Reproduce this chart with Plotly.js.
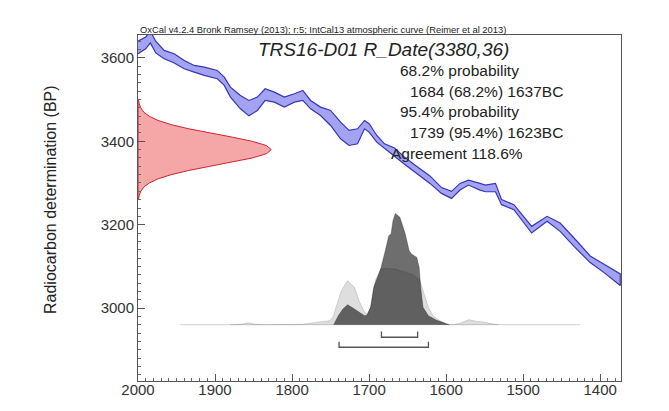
<!DOCTYPE html>
<html><head><meta charset="utf-8">
<script src="https://cdn.plot.ly/plotly-3.0.1.min.js"></script>
<style>html,body{margin:0;padding:0;background:#fff}</style>
</head><body><div id="chart" style="width:669px;height:411px"></div>
<script>
// Calibration curve (IntCal13) band, years BC and 14C BP
const curveYears = [2000,1990,1984,1977,1966,1953,1940,1927,1914,1897,1888,1880,1867,1856,1845,1835,1823,1810,1797,1786,1776,1763,1750,1737,1726,1715,1706,1700,1690,1680,1667,1654,1642,1621,1606,1593,1582,1571,1556,1549,1536,1528,1512,1499,1489,1469,1452,1434,1413,1395,1374];
const curveUpper = [3640,3650,3664,3640,3618,3610,3594,3582,3578,3570,3554,3530,3510,3498,3506,3526,3518,3506,3514,3522,3498,3482,3474,3446,3426,3430,3450,3442,3414,3394,3384,3362,3345,3317,3289,3280,3299,3307,3299,3295,3299,3260,3248,3220,3196,3220,3204,3168,3125,3105,3082];
const curveLower = [3610,3622,3636,3612,3598,3588,3574,3566,3558,3550,3534,3506,3478,3461,3474,3498,3494,3482,3494,3498,3478,3462,3438,3406,3390,3394,3430,3422,3398,3382,3364,3345,3327,3299,3275,3263,3283,3295,3283,3279,3279,3248,3236,3204,3180,3208,3184,3148,3109,3085,3054];

// Radiocarbon measurement R_Date(3380,36): relative probability vs BP
const measBP = [3260,3270,3280,3290,3300,3310,3320,3330,3340,3350,3360,3370,3380,3390,3400,3410,3420,3430,3440,3450,3460,3470,3480,3490,3500];
const measProb = [0.004,0.009,0.021,0.043,0.085,0.151,0.249,0.381,0.539,0.707,0.857,0.962,1,0.962,0.857,0.707,0.539,0.381,0.249,0.151,0.085,0.043,0.021,0.009,0.004];

// Calibrated distributions (years BC, relative probability)
const likeYears = [1880,1866,1857,1848,1836,1814,1807,1800,1786,1768,1760,1751,1746,1743,1736,1728,1719,1713,1706,1702,1698,1692,1685,1679,1666,1653,1643,1634,1628,1623,1617,1608,1600,1592,1583,1571,1560,1551,1542,1532];
const likeProb = [0,0.004,0.018,0.004,0,0,0.006,0,0.004,0.021,0.025,0.036,0.08,0.156,0.306,0.396,0.336,0.216,0.111,0.09,0.156,0.396,0.5,0.506,0.5,0.47,0.449,0.396,0.276,0.156,0.081,0.036,0.006,0,0.01,0.045,0.03,0.024,0.01,0];
const postYears = [1746,1740,1734,1728,1721,1713,1706,1703,1698,1694,1689,1685,1679,1674.5,1671.5,1669,1666,1660,1653,1648,1645,1638,1635,1633,1630,1623,1613,1602,1596];
const postProb = [0,0.081,0.141,0.18,0.15,0.111,0.081,0.085,0.156,0.336,0.425,0.5,0.665,0.8,0.815,0.935,1,0.965,0.815,0.665,0.635,0.605,0.515,0.336,0.156,0.081,0.042,0.012,0];
const plotSpan = [1945, 1426];

// Ranges
const range68 = [1684, 1637];
const range95 = [1739, 1623];

// Texts
const headerText = 'OxCal v4.2.4 Bronk Ramsey (2013); r:5; IntCal13 atmospheric curve (Reimer et al 2013)';
const titleText = 'TRS16-D01 R_Date(3380,36)';
const infoLines = ['68.2% probability','1684 (68.2%) 1637BC','95.4% probability','1739 (95.4%) 1623BC','Agreement 118.6%'];
const yTitle = 'Radiocarbon determination (BP)';

// ---- layout helpers ----
const L=138, R=621, T=35, B=381;
const px = x => (x-L)/(R-L);
const py = y => (B-y)/(B-T);
const baseBP = 2960, distScale = 267, measScale = 173, xLeft = 2000;
const FONT = 'Liberation Sans, Arial, sans-serif';

const traces = [];
// calibration band
traces.push({
  x: curveYears.concat(curveYears.slice().reverse()),
  y: curveUpper.concat(curveLower.slice().reverse()),
  type:'scatter', mode:'lines', fill:'toself',
  fillcolor:'#a3a3f2', line:{color:'#3535b5', width:1.2}, hoverinfo:'skip'
});
// measurement curve
traces.push({
  x: measProb.map(p => xLeft - p*measScale).concat([xLeft, xLeft]),
  y: measBP.concat([measBP[measBP.length-1], measBP[0]]),
  type:'scatter', mode:'lines', fill:'toself',
  fillcolor:'#f5a6a6', line:{color:'#cc2233', width:1}, hoverinfo:'skip'
});
// baseline
traces.push({x: plotSpan, y:[baseBP, baseBP], type:'scatter', mode:'lines', line:{color:'#cfcfcf', width:1}, hoverinfo:'skip'});
// likelihood
traces.push({
  x: likeYears, y: likeProb.map(p => baseBP + p*distScale),
  type:'scatter', mode:'lines', fill:'toself', fillcolor:'rgba(0,0,0,0.13)',
  line:{color:'rgba(0,0,0,0.18)', width:0.8}, hoverinfo:'skip'
});
// posterior
traces.push({
  x: postYears, y: postProb.map(p => baseBP + p*distScale),
  type:'scatter', mode:'lines', fill:'toself', fillcolor:'rgba(0,0,0,0.57)',
  line:{color:'rgba(0,0,0,0.45)', width:0.6}, hoverinfo:'skip'
});
// range brackets
function bracket(r, yBar, h){
  return {x:[r[0],r[0],r[1],r[1]], y:[yBar+h, yBar, yBar, yBar+h], type:'scatter', mode:'lines',
          line:{color:'#555', width:1.3}, hoverinfo:'skip'};
}
traces.push(bracket(range68, 2930, 14));
traces.push(bracket(range95, 2906, 13));

const ann = [];
ann.push({text: headerText, xref:'paper', yref:'paper', x: px(138), y: py(29), xanchor:'left', yanchor:'middle',
  showarrow:false, font:{family:FONT, size:9.4, color:'#222'}});
ann.push({text: '<i>'+titleText+'</i>', xref:'paper', yref:'paper', x: px(256), y: py(50), xanchor:'left', yanchor:'middle',
  showarrow:false, font:{family:FONT, size:19, color:'#222'}});
const infoX = [398, 408, 398, 408, 389];
const infoY = [71, 92, 111.5, 132, 153];
infoLines.forEach((t,i) => ann.push({text:t, xref:'paper', yref:'paper', x: px(infoX[i]), y: py(infoY[i]),
  xanchor:'left', yanchor:'middle', showarrow:false, font:{family:FONT, size:15.5, color:'#222'}}));
ann.push({text: yTitle, xref:'paper', yref:'paper', x: px(50), y: py(200), xanchor:'center', yanchor:'middle',
  textangle:-90, showarrow:false, font:{family:FONT, size:16, color:'#222'}});

const axisCommon = {showgrid:false, zeroline:false, showline:true, mirror:true, linecolor:'#555', linewidth:1,
  ticks:'inside', ticklen:7, tickwidth:1, tickcolor:'#555', tickformat:'d',
  tickfont:{family:FONT, size:15, color:'#333'}};

const layout = {
  width:669, height:411,
  margin:{l:L, r:669-R, t:T, b:411-B, pad:0},
  paper_bgcolor:'#fff', plot_bgcolor:'#fff', showlegend:false,
  font:{family:FONT, size:15, color:'#333'},
  xaxis: Object.assign({}, axisCommon, {range:[2000,1373], tickmode:'linear', tick0:0, dtick:100,
     ticklabelstandoff:-5,
     minor:{dtick:10, ticks:'inside', ticklen:3, tickcolor:'#666'}}),
  yaxis: Object.assign({}, axisCommon, {range:[2825,3655], tickmode:'linear', tick0:0, dtick:200,
     minor:{dtick:20, ticks:'inside', ticklen:3, tickcolor:'#666'}}),
  annotations: ann
};

Plotly.newPlot('chart', traces, layout, {staticPlot:true, displayModeBar:false});
</script>
</body></html>
